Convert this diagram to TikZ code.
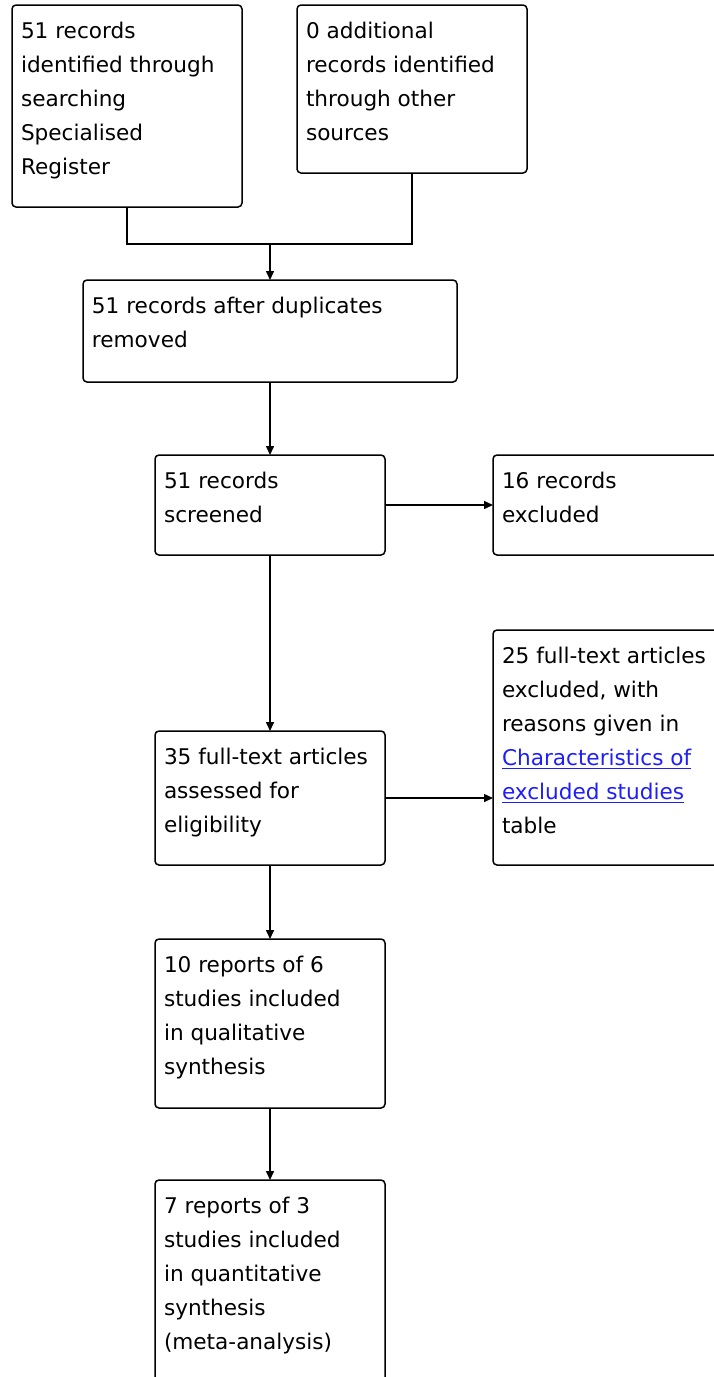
\documentclass[tikz,border=0pt]{standalone}
\usepackage{fontspec}
\setmainfont{DejaVu Sans}
\usetikzlibrary{arrows.meta}

\definecolor{linkblue}{RGB}{30,30,250}
% text of a box, set at its top left
\newcommand{\boxtext}[3]{\parbox[c][#2][t]{#1}{\raggedright\leftskip=4.5pt
  \fontsize{10.8pt}{17pt}\selectfont\rule{0pt}{16.75pt}#3}}
\newcommand{\linktext}[1]{\textcolor{linkblue}{\underline{#1}}}

\begin{document}
\begin{tikzpicture}[x=0.5pt, y=-0.5pt,
    stage/.style={draw, line width=0.75pt, rounded corners=2pt, anchor=north west, inner sep=0pt, outer sep=0pt},
    flow/.style={line width=0.75pt, -{Triangle[length=4.5pt, width=4pt]}}]
\useasboundingbox (0,0) rectangle (713,1377);

% identification
\node[stage] (search) at (12,5) {\boxtext{115pt}{101pt}{51 records\\identified through\\searching\\Specialised\\Register}};
\node[stage] (other) at (297,5) {\boxtext{115pt}{84pt}{0 additional\\records identified\\through other\\sources}};

% screening
\node[stage] (dedup) at (83,280) {\boxtext{187pt}{51pt}{51 records after duplicates\\removed}};
\node[stage] (screen) at (155,455) {\boxtext{115pt}{50pt}{51 records\\screened}};
\node[stage] (excl) at (493,455) {\boxtext{115pt}{50pt}{16 records\\excluded}};
\coordinate (join) at (dedup.north |- 0,244);

% eligibility
\node[stage] (fulltext) at (155,731) {\boxtext{115pt}{67pt}{35 full-text articles\\assessed for\\eligibility}};
\node[stage] (ftexcl) at (493,630) {\boxtext{115pt}{117.5pt}{25 full-text articles\\excluded, with\\reasons given in\\\linktext{Characteristics of}\\\linktext{excluded studies}\\table}};

% included
\node[stage] (qual) at (155,939) {\boxtext{115pt}{84.5pt}{10 reports of 6\\studies included\\in qualitative\\synthesis}};
\node[stage] (quant) at (155,1180) {\boxtext{115pt}{110pt}{7 reports of 3\\studies included\\in quantitative\\synthesis\\(meta-analysis)}};

\draw[line width=0.75pt] (search.south) |- (join) -| (other.south);
\draw[flow] (join) -- (dedup.north);
\draw[flow] (dedup) -- (screen);
\draw[flow] (screen) -- (excl);
\draw[flow] (screen) -- (fulltext);
\draw[flow] (fulltext.east) -- (fulltext.east -| ftexcl.west);
\draw[flow] (fulltext) -- (qual);
\draw[flow] (qual) -- (quant);

\end{tikzpicture}
\end{document}
